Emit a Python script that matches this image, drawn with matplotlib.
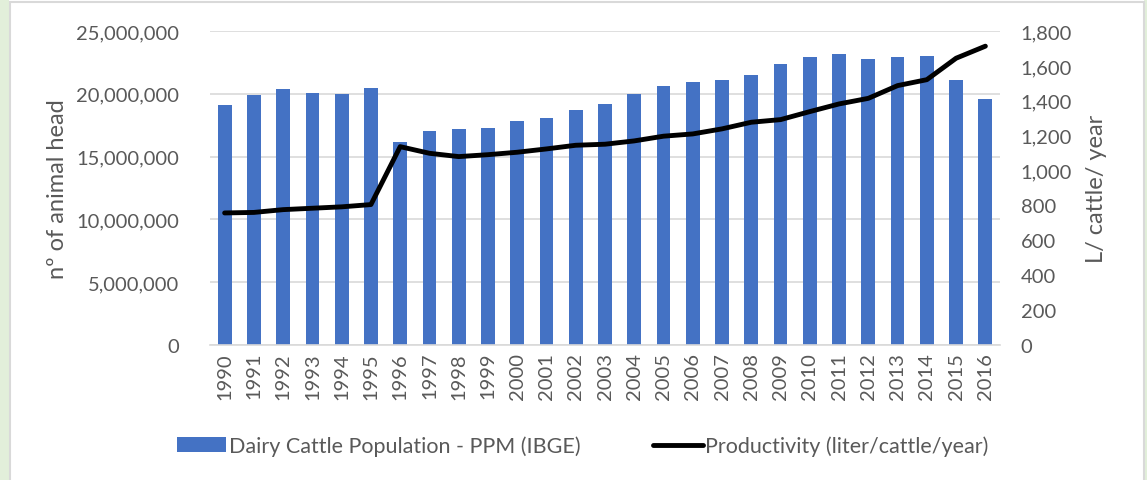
import numpy as np
import matplotlib.pyplot as plt
from matplotlib.ticker import FuncFormatter
from matplotlib.patches import Rectangle

years = [str(y) for y in range(1990, 2017)]

# dairy cattle herd (head)
cattle = [19.1, 19.9, 20.4, 20.1, 20.0, 20.5, 16.2, 17.0, 17.2, 17.3,
          17.8, 18.1, 18.7, 19.2, 20.0, 20.6, 20.9, 21.1, 21.5, 22.4,
          22.9, 23.2, 22.8, 22.9, 23.0, 21.1, 19.6]
cattle = [c * 1e6 for c in cattle]

# productivity (liter/cattle/year)
productivity = [757, 760, 776, 784, 792, 805, 1137, 1099, 1080, 1091,
                1105, 1124, 1145, 1151, 1170, 1197, 1210, 1239, 1277, 1292,
                1338, 1382, 1414, 1487, 1521, 1644, 1713]

plt.rcParams['font.family'] = ['Lato', 'DejaVu Sans']
grey = '#595959'

fig = plt.figure(figsize=(11.47, 4.81), dpi=100)

# green page strips and chart frame
fig.patches.append(Rectangle((0, 0), 9 / 1147, 1, transform=fig.transFigure,
                             facecolor='#e2efda', edgecolor='none', zorder=0))
fig.patches.append(Rectangle((1144 / 1147, 0), 3 / 1147, 1, transform=fig.transFigure,
                             facecolor='#e2efda', edgecolor='none', zorder=0))
fig.patches.append(Rectangle((9.5 / 1147, -0.01), (1143.5 - 9.5) / 1147, 1 - 3 / 481 + 0.01,
                             transform=fig.transFigure, facecolor='none',
                             edgecolor='#d9d9d9', linewidth=1.5, zorder=1))

ax = fig.add_axes([210 / 1147, 1 - 346 / 481, 790 / 1147, 314 / 481])
x = np.arange(len(years))
ax.bar(x, cattle, width=0.47, color='#4472c4', zorder=2,
       label='Dairy Cattle Population - PPM (IBGE)')
ax.set_xlim(-0.5, len(years) - 0.5)
ax.set_ylim(0, 25e6)
ax.set_yticks(np.arange(0, 25e6 + 1, 5e6))
ax.yaxis.set_major_formatter(FuncFormatter(lambda v, p: f'{v:,.0f}'))
ax.grid(axis='y', color='#d9d9d9', linewidth=1.2, zorder=0)
ax.set_axisbelow(True)
for s in ['top', 'right', 'left']:
    ax.spines[s].set_visible(False)
ax.spines['bottom'].set_color('#d9d9d9')
ax.spines['bottom'].set_linewidth(1.2)
ax.tick_params(length=0, colors=grey, labelsize=14.5)
ax.tick_params(axis='y', pad=22)
ax.tick_params(axis='x', pad=5)
ax.set_xticks(x)
ax.set_xticklabels(years, rotation=90)
ax.set_ylabel('nº of animal head', color=grey, fontsize=17, labelpad=6)

ax2 = ax.twinx()
ax2.plot(x, productivity, color='black', linewidth=3.5, solid_capstyle='round',
         label='Productivity (liter/cattle/year)', zorder=3)
ax2.set_ylim(0, 1800)
ax2.set_yticks(np.arange(0, 1801, 200))
ax2.yaxis.set_major_formatter(FuncFormatter(lambda v, p: f'{v:,.0f}'))
for s in ax2.spines.values():
    s.set_visible(False)
ax2.tick_params(length=0, colors=grey, labelsize=14.5, pad=15)
ax2.set_ylabel('L/ cattle/ year', color=grey, fontsize=17, labelpad=10)

h1, l1 = ax.get_legend_handles_labels()
h2, l2 = ax2.get_legend_handles_labels()
fig.legend(h1 + h2, l1 + l2, loc='center', bbox_to_anchor=(0.508, 1 - 447 / 481),
           ncol=2, frameon=False, fontsize=15.5, labelcolor=grey,
           handlelength=2.3, handletextpad=0.1, columnspacing=3.4)

fig.savefig('out.png', dpi=100)
